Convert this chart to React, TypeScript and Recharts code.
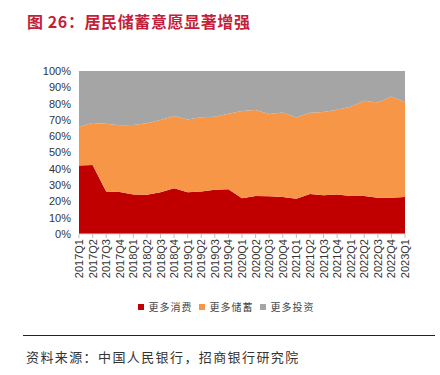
import { AreaChart, Area, XAxis, YAxis } from "recharts";

const QUARTERS = [
  "2017Q1", "2017Q2", "2017Q3", "2017Q4",
  "2018Q1", "2018Q2", "2018Q3", "2018Q4",
  "2019Q1", "2019Q2", "2019Q3", "2019Q4",
  "2020Q1", "2020Q2", "2020Q3", "2020Q4",
  "2021Q1", "2021Q2", "2021Q3", "2021Q4",
  "2022Q1", "2022Q2", "2022Q3", "2022Q4",
  "2023Q1",
];

// 更多消费 (%)
const CONSUME = [
  42.1, 42.3, 26.0, 25.8, 24.3, 24.1, 25.6, 28.0, 25.6, 26.0, 27.2, 27.4,
  22.0, 23.3, 23.1, 22.7, 21.7, 24.5, 23.7, 24.3, 23.3, 23.3, 22.3, 22.3, 22.7,
];

// 更多储蓄 (%)
const SAVE = [
  23.7, 25.8, 41.7, 40.9, 42.6, 43.8, 44.3, 44.4, 44.7, 45.6, 44.8, 46.4,
  53.4, 52.8, 50.5, 51.9, 49.7, 49.9, 51.1, 52.0, 54.8, 58.5, 58.3, 62.0, 58.1,
];

// 更多投资 (%)
const INVEST = [
  34.2, 31.9, 32.3, 33.3, 33.1, 32.1, 30.1, 27.6, 29.7, 28.4, 28.0, 26.2,
  24.6, 23.9, 26.4, 25.4, 28.6, 25.6, 25.2, 23.7, 21.9, 18.2, 19.4, 15.7, 19.2,
];

const Y_TICKS = [0, 10, 20, 30, 40, 50, 60, 70, 80, 90, 100];

const SERIES = [
  { key: "consume", name: "更多消费", color: "#C00000" },
  { key: "save", name: "更多储蓄", color: "#F79646" },
  { key: "invest", name: "更多投资", color: "#A5A5A5" },
];

const data = QUARTERS.map((q, i) => ({
  q,
  consume: CONSUME[i],
  save: SAVE[i],
  invest: INVEST[i],
}));

const AXIS_FONT = "'Liberation Sans', Arial, sans-serif";
const CJK_FONT = "'Noto Sans CJK SC', sans-serif";

function QuarterTick(props: any) {
  const { x, y, payload } = props;
  return (
    <g transform={`translate(${x},${y})`}>
      <text
        transform="rotate(-90)"
        x={0}
        y={4}
        textAnchor="end"
        fontSize={11}
        fontFamily={AXIS_FONT}
        fill="#333"
      >
        {payload.value}
      </text>
    </g>
  );
}

export default function App() {
  return (
    <div
      style={{
        position: "absolute",
        left: 0,
        top: 0,
        width: 440,
        height: 375,
        background: "#fff",
        overflow: "hidden",
      }}
    >
      <div
        style={{
          position: "absolute",
          left: 27,
          top: 9,
          fontFamily: CJK_FONT,
          fontWeight: 700,
          fontSize: 16,
          letterSpacing: 0.6,
          color: "#C41E3A",
          whiteSpace: "nowrap",
        }}
      >
        图 26：居民储蓄意愿显著增强
      </div>

      <div style={{ position: "absolute", left: 0, top: 0 }}>
        <AreaChart
          width={440}
          height={300}
          data={data}
          margin={{ top: 71, right: 35, bottom: 16, left: 34 }}
        >
          <XAxis
            dataKey="q"
            interval={0}
            height={50}
            tickSize={4}
            tickMargin={1}
            tick={<QuarterTick />}
            axisLine={{ stroke: "#D9D9D9" }}
            tickLine={{ stroke: "#BFBFBF" }}
          />
          <YAxis
            width={45}
            domain={[0, 100]}
            ticks={Y_TICKS}
            interval={0}
            allowDataOverflow
            axisLine={false}
            tickLine={false}
            tickSize={0}
            tickMargin={8}
            tickFormatter={(v: number) => `${v}%`}
            tick={{ fontSize: 11, fontFamily: AXIS_FONT, fill: "#333" }}
          />
          {SERIES.map((s) => (
            <Area
              key={s.key}
              type="linear"
              dataKey={s.key}
              name={s.name}
              stackId="1"
              stroke="none"
              fill={s.color}
              fillOpacity={1}
              isAnimationActive={false}
            />
          ))}
        </AreaChart>
      </div>

      {/* legend */}
      <div
        style={{
          position: "absolute",
          left: 0,
          width: 440,
          top: 299,
          display: "flex",
          justifyContent: "center",
          alignItems: "center",
          paddingLeft: 18,
          boxSizing: "border-box",
          fontFamily: CJK_FONT,
          fontSize: 10,
          letterSpacing: 1,
          color: "#444",
        }}
      >
        {SERIES.map((s) => (
          <div key={s.key} style={{ display: "flex", alignItems: "center", marginRight: 6 }}>
            <span style={{ width: 6, height: 6, background: s.color, marginRight: 5 }} />
            <span>{s.name}</span>
          </div>
        ))}
      </div>

      <div
        style={{
          position: "absolute",
          left: 23,
          top: 335,
          width: 412,
          height: 0,
          borderTop: "1.5px solid #222",
        }}
      />

      <div
        style={{
          position: "absolute",
          left: 26,
          top: 347,
          fontFamily: CJK_FONT,
          fontSize: 13,
          letterSpacing: 1.4,
          color: "#333",
          whiteSpace: "nowrap",
        }}
      >
        资料来源：中国人民银行，招商银行研究院
      </div>
    </div>
  );
}
